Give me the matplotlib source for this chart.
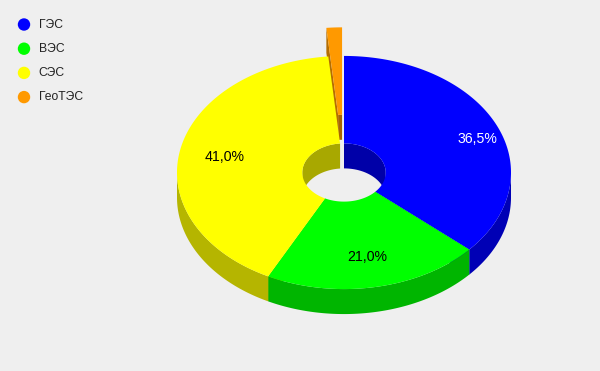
import numpy as np
import matplotlib
matplotlib.use("Agg")
import matplotlib.pyplot as plt
from matplotlib.patches import Polygon, Circle

labels = ["ГЭС", "ВЭС", "СЭС", "ГеоТЭС"]
values = [36.5, 21.0, 41.0, 1.5]
colors = ["#0000ff", "#00ff00", "#ffff00", "#ff9900"]
text_colors = ["white", "black", "black", None]
sliced = [False, False, False, True]

BG = "#efefef"
CX, CY = 344.0, 172.5      # centre of top face (px)
RX, K = 167.0, 0.698       # outer radius, vertical squash
RI = 41.7                  # inner radius
DEPTH = 25.0
OFFSET = 41.0              # sliced offset
LABEL_R = [0.88, 0.74, 0.73]
LABEL_DY = [8.5, 0, 0]


def dark(c, f=0.71):
    r, g, b = matplotlib.colors.to_rgb(c)
    return (r * f, g * f, b * f)


def pt(r, a, dx=0.0, dy=0.0, down=0.0):
    return (CX + dx + r * np.cos(a), CY + dy - r * K * np.sin(a) + down)


def arc(r, a1, a2, dx, dy, down=0.0, n=80):
    ts = np.linspace(a1, a2, n)
    return [pt(r, t, dx, dy, down) for t in ts]


def clip_range(a1, a2, lo, hi):
    # slice runs clockwise a1 -> a2 (a1 > a2); keep the part inside [lo, hi]
    s, e = max(a2, lo), min(a1, hi)
    return (e, s) if e > s else None


fig = plt.figure(figsize=(6.0, 3.71), dpi=100, facecolor=BG)
ax = fig.add_axes([0, 0, 1, 1])
ax.set_xlim(0, 600)
ax.set_ylim(371, 0)
ax.axis("off")

tot = sum(values)
angles = []
a = np.pi / 2
for v in values:
    a2 = a - v / tot * 2 * np.pi
    angles.append((a, a2))
    a = a2


def draw_slice(i, z):
    a1, a2 = angles[i]
    mid = (a1 + a2) / 2
    dx = dy = 0.0
    if sliced[i]:
        dx = OFFSET * np.cos(mid)
        dy = -OFFSET * K * np.sin(mid)
    c, cs = colors[i], dark(colors[i])
    kw = dict(closed=True, lw=0, antialiased=True)
    # radial walls that face the viewer
    for ang, nrm in ((a1, -np.cos(a1)), (a2, np.cos(a2))):
        if nrm > 1e-6:
            p = [pt(RI, ang, dx, dy), pt(RX, ang, dx, dy),
                 pt(RX, ang, dx, dy, DEPTH), pt(RI, ang, dx, dy, DEPTH)]
            ax.add_patch(Polygon(p, fc=cs, zorder=z, **kw))
    # inner wall, back half
    for lo, hi in ((0, np.pi), (-2 * np.pi, -np.pi)):
        rng = clip_range(a1, a2, lo, hi)
        if rng:
            top = arc(RI, rng[0], rng[1], dx, dy)
            bot = arc(RI, rng[1], rng[0], dx, dy, DEPTH)
            ax.add_patch(Polygon(top + bot, fc=dark(colors[i], 0.66), zorder=z + 0.1, **kw))
    # outer wall, front half
    for lo, hi in ((-np.pi, 0), (-3 * np.pi, -2 * np.pi)):
        rng = clip_range(a1, a2, lo, hi)
        if rng:
            top = arc(RX, rng[0], rng[1], dx, dy)
            bot = arc(RX, rng[1], rng[0], dx, dy, DEPTH)
            ax.add_patch(Polygon(top + bot, fc=cs, zorder=z + 0.2, **kw))
    # top face
    p = arc(RX, a1, a2, dx, dy, n=200) + arc(RI, a2, a1, dx, dy, n=60)
    ax.add_patch(Polygon(p, fc=c, zorder=z + 0.3, **kw))


for i in range(len(values)):
    draw_slice(i, 1 if sliced[i] else 2)

for i, v in enumerate(values):
    if text_colors[i] is None:
        continue
    a1, a2 = angles[i]
    mid = (a1 + a2) / 2
    x, y = pt(RX * LABEL_R[i], mid)
    ax.text(x, y + LABEL_DY[i], f"{v:.1f}%".replace(".", ","), color=text_colors[i],
            fontsize=10.2, family="Liberation Sans", ha="center", va="center", zorder=5)

for j, (lab, c) in enumerate(zip(labels, colors)):
    y = 24.5 + j * 24.2
    ax.add_patch(Circle((24, y), 6.2, fc=c, lw=0, zorder=5))
    ax.text(38.5, y, lab, fontsize=8.7, family="Liberation Sans", color="#222222",
            ha="left", va="center", zorder=5)

fig.savefig("out.png", dpi=100, facecolor=BG)
